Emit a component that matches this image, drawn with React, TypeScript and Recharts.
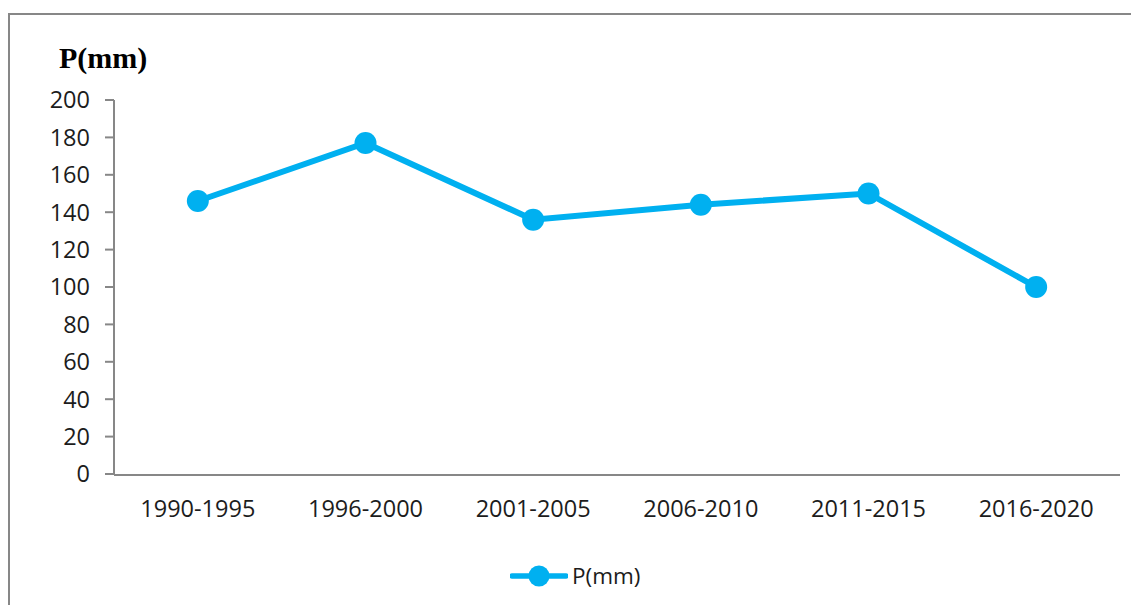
import React from 'react';
import { LineChart, Line, XAxis, YAxis, Legend } from 'recharts';

const PERIODS = ['1990-1995', '1996-2000', '2001-2005', '2006-2010', '2011-2015', '2016-2020'];
const PRECIP = [146, 177, 136, 144, 150, 100];
const Y_TICKS = [0, 20, 40, 60, 80, 100, 120, 140, 160, 180, 200];
const BOUNDARY_TICKS = [0, 1, 2, 3, 4, 5, 6];

const BLUE = '#00B0F0';
const AXIS = '#878787';
const TEXT = '#1c1c1c';
const FONT = '"Open Sans", sans-serif';

const data = PERIODS.map((period, i) => ({ period, p: PRECIP[i] }));

function LegendBox() {
  return (
    <div style={{ display: 'flex', alignItems: 'center', fontFamily: FONT, fontSize: 22.5, color: TEXT }}>
      <svg width={58} height={24}>
        <line x1={2} y1={12} x2={56} y2={12} stroke={BLUE} strokeWidth={5.5} strokeLinecap="round" />
        <circle cx={29} cy={12} r={10.5} fill={BLUE} />
      </svg>
      <span style={{ marginLeft: 4 }}>P(mm)</span>
    </div>
  );
}

export default function App() {
  return (
    <div style={{ position: 'absolute', left: 0, top: 0, width: 1131, height: 605, overflow: 'hidden', background: '#fff' }}>
      {/* outer frame, only left and top edges are visible */}
      <div style={{ position: 'absolute', left: 8, top: 13, width: 1140, height: 620, border: `2px solid ${AXIS}` }} />
      <div
        style={{
          position: 'absolute',
          left: 59,
          top: 39,
          fontFamily: '"Liberation Serif", serif',
          fontWeight: 'bold',
          fontSize: 30,
          lineHeight: '38px',
          color: '#000',
        }}
      >
        P(mm)
      </div>
      <div style={{ position: 'absolute', left: 0, top: 0 }}>
        <LineChart width={1131} height={605} data={data} margin={{ top: 100, right: 11, bottom: 129, left: 0 }}>
          <XAxis
            xAxisId="grid"
            type="number"
            domain={[0, 6]}
            ticks={BOUNDARY_TICKS}
            allowDataOverflow
            height={1}
            tick={false}
            tickSize={9}
            axisLine={{ stroke: AXIS, strokeWidth: 2 }}
            tickLine={{ stroke: AXIS, strokeWidth: 2 }}
          />
          <XAxis
            xAxisId="cat"
            dataKey="period"
            scale="band"
            height={1}
            axisLine={false}
            tickLine={false}
            tickSize={0}
            tickMargin={26}
            tick={{ fill: TEXT, fontSize: 23.5, fontFamily: FONT }}
            interval={0}
          />
          <YAxis
            width={114}
            domain={[0, 200]}
            ticks={Y_TICKS}
            interval={0}
            tickSize={9}
            tickMargin={15}
            axisLine={{ stroke: AXIS, strokeWidth: 2 }}
            tickLine={{ stroke: AXIS, strokeWidth: 2 }}
            tick={{ fill: TEXT, fontSize: 23.5, fontFamily: FONT }}
          />
          <Legend
            layout="horizontal"
            verticalAlign="middle"
            align="center"
            content={() => <LegendBox />}
            wrapperStyle={{ top: 560, left: 510, width: 'auto' }}
          />
          <Line
            xAxisId="cat"
            dataKey="p"
            name="P(mm)"
            stroke={BLUE}
            strokeWidth={6}
            dot={{ r: 11, fill: BLUE, stroke: 'none' }}
            activeDot={false}
            isAnimationActive={false}
          />
        </LineChart>
      </div>
    </div>
  );
}
